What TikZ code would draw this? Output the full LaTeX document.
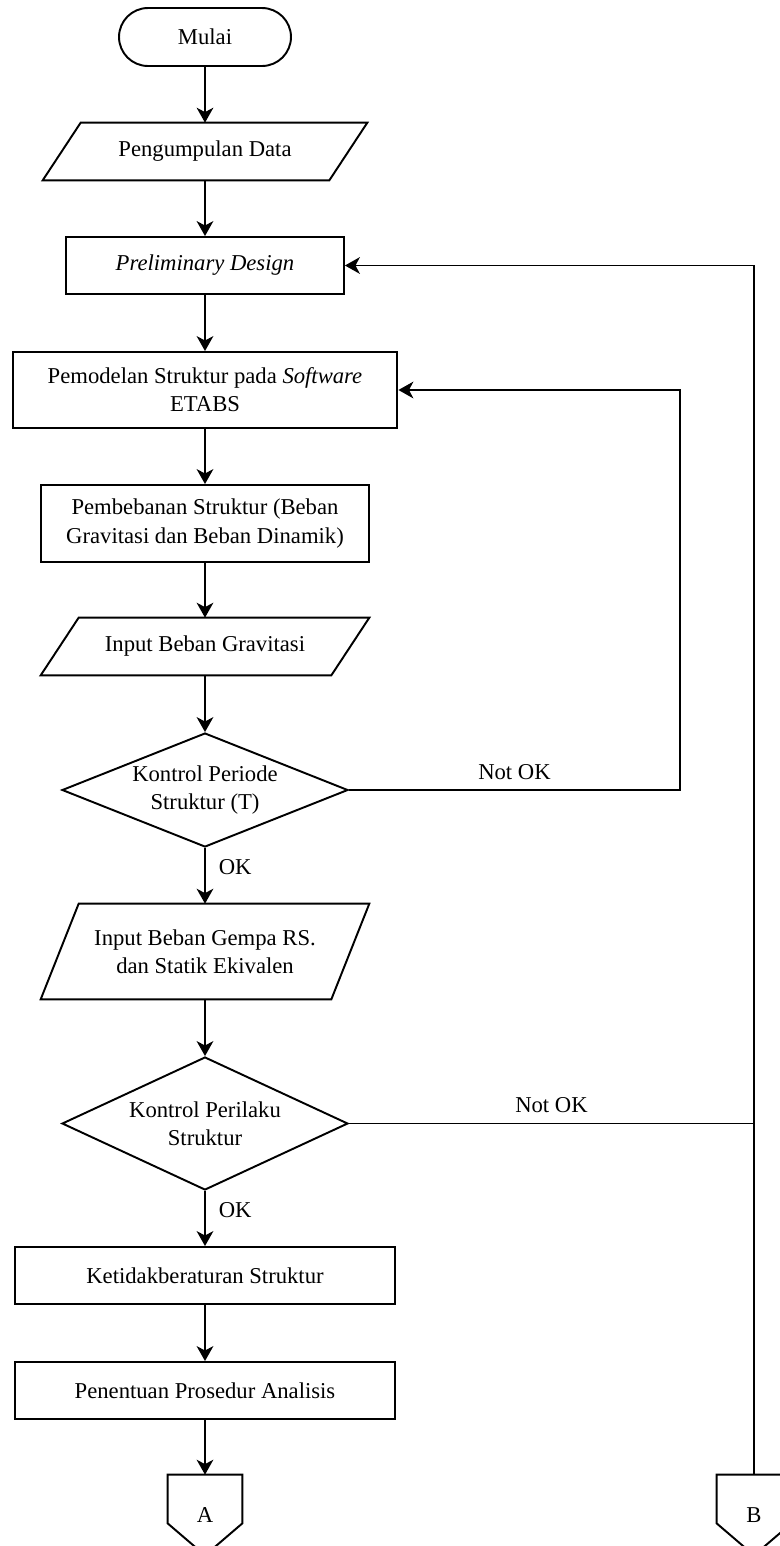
\documentclass[tikz,border=0pt]{standalone}
\usepackage{fontspec}
\setmainfont{Liberation Serif}
\usetikzlibrary{arrows.meta, shapes.geometric}

\begin{document}
\begin{tikzpicture}[x=0.02cm, y=-0.02cm, >={Stealth[length=8.5pt, width=9.5pt, inset=2.5pt]},
  every node/.style={font=\fontsize{12.9}{16}\selectfont},
  box/.style={draw, line width=1.1pt, rectangle, align=center, inner sep=2pt},
  io/.style={rectangle, align=center, inner sep=0pt},
  decision/.style={draw, line width=1.1pt, diamond, aspect=2.5, inner sep=0pt, align=center, minimum width=5.72cm},
  flow/.style={->, line width=1.1pt}]
  \useasboundingbox (0,0) rectangle (779,1546);

  % Main column
  \node[draw, line width=1.1pt, rounded corners=0.58cm, minimum width=3.44cm, minimum height=1.16cm] (start) at (205,37) {Mulai};
  \node[io, minimum width=5.72cm, minimum height=1.14cm] (data) at (205,151.5) {Pengumpulan Data};
  \node[box, minimum width=5.56cm, minimum height=1.14cm] (prelim) at (205,265.5) {\itshape Preliminary Design};
  \node[box, minimum width=7.7cm, minimum height=1.52cm] (model) at (205,390) {Pemodelan Struktur pada \textit{Software}\\ETABS};
  \node[box, minimum width=6.56cm, minimum height=1.54cm] (load) at (205,523.5) {Pembebanan Struktur (Beban\\Gravitasi dan Beban Dinamik)};
  \node[io, minimum width=5.8cm, minimum height=1.14cm] (grav) at (205,646.5) {Input Beban Gravitasi};
  \node[decision, minimum height=2.28cm] (period) at (205,790) {Kontrol Periode\\Struktur (T)};
  \node[io, minimum width=5.8cm, minimum height=1.9cm] (quake) at (205,951.5) {Input Beban Gempa RS.\\dan Statik Ekivalen};
  \node[decision, minimum height=2.66cm] (behav) at (205,1123.5) {Kontrol Perilaku\\Struktur};
  \node[box, minimum width=7.62cm, minimum height=1.14cm] (irreg) at (205,1275.5) {Ketidakberaturan Struktur};
  \node[box, minimum width=7.62cm, minimum height=1.14cm] (proc) at (205,1390.5) {Penentuan Prosedur Analisis};

  % Off-page connectors
  \node[io, minimum width=1.48cm, minimum height=1.6cm] (conA) at (205,1515) {A};
  \node[io, minimum width=1.48cm, minimum height=1.6cm] (conB) at (754,1515) {B};

  % Input/output parallelograms
  \foreach \n in {data, grav, quake}
    \draw[line width=1.1pt] ([xshift=-0.38cm]\n.south west) -- ([xshift=-0.38cm]\n.south east)
      -- ([xshift=0.38cm]\n.north east) -- ([xshift=0.38cm]\n.north west) -- cycle;
  \foreach \n in {conA, conB}
    \draw[line width=1.1pt] (\n.north west) -- (\n.north east) -- ([yshift=0.64cm]\n.south east)
      -- (\n.south) -- ([yshift=0.64cm]\n.south west) -- cycle;

  % Arrows
  \draw[flow] (start) -- (data);
  \draw[flow] (data) -- (prelim);
  \draw[flow] (prelim) -- (model);
  \draw[flow] (model) -- (load);
  \draw[flow] (load) -- (grav);
  \draw[flow] (grav) -- (period);
  \draw[flow] (period) -- node[right=4pt, pos=0.35] {OK} (quake);
  \draw[flow] (quake) -- (behav);
  \draw[flow] (behav) -- node[right=4pt, pos=0.35] {OK} (irreg);
  \draw[flow] (irreg) -- (proc);
  \draw[flow] (proc) -- (conA);

  % Not OK loops
  \coordinate (loop1) at (680,790);
  \draw[flow] (period.east) -- node[above, yshift=2pt] {Not OK} (loop1) |- (model.east);
  \draw[line width=1.1pt] (behav.east) -- node[above, yshift=2pt] {Not OK} (behav.east -| conB.north);
  \draw[flow] (conB.north) |- (prelim.east);
\end{tikzpicture}
\end{document}
